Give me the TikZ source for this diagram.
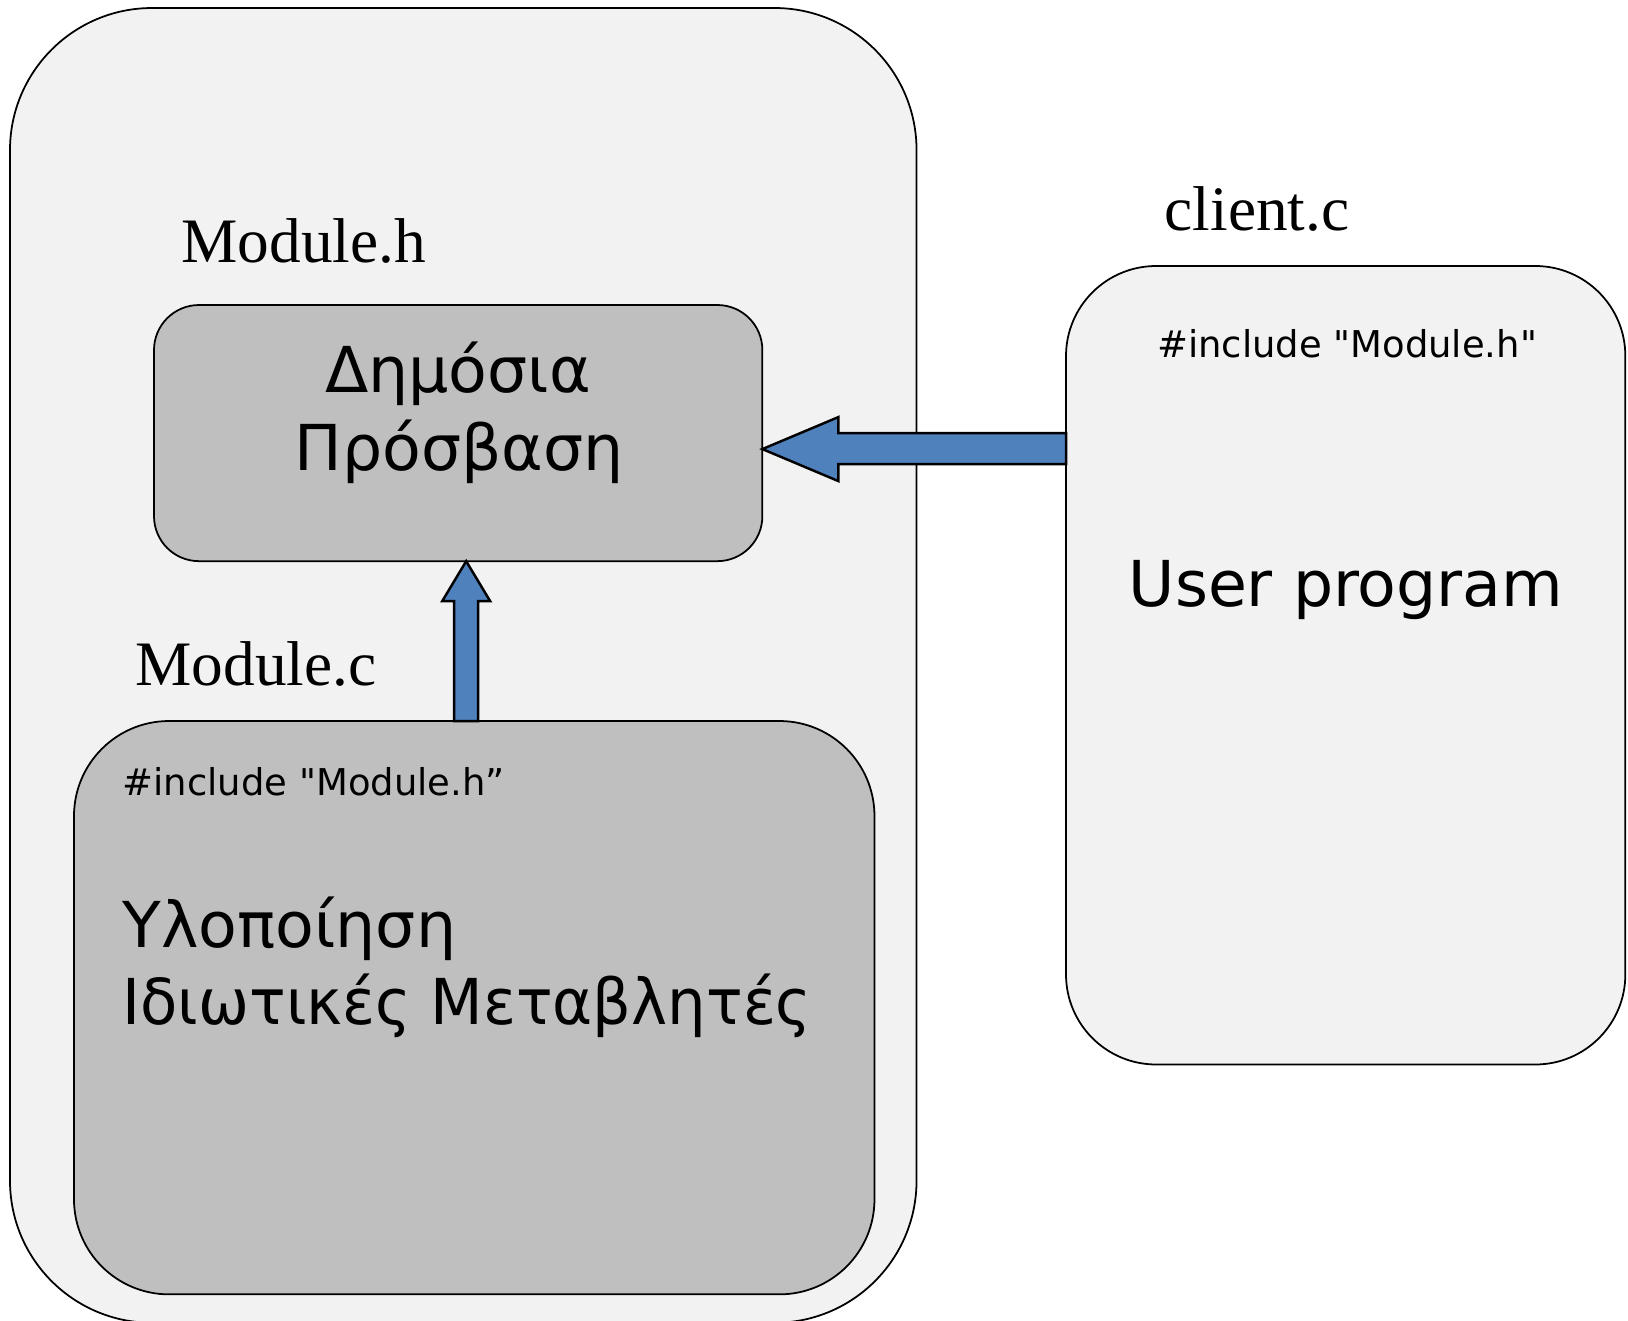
\documentclass[tikz,border=0pt]{standalone}
\usepackage{fontspec}
\setmainfont{Liberation Serif}
\setsansfont{DejaVu Sans}
\newfontfamily\codefont{DejaVu Sans}[Ligatures=TeXOff]
\usetikzlibrary{calc}
\definecolor{paneFill}{HTML}{F2F2F2}
\definecolor{boxFill}{HTML}{BFBFBF}
\definecolor{arrowFill}{HTML}{4F81BD}

\begin{document}
\begin{tikzpicture}[x=0.01cm, y=-0.01cm,
  frame/.style={draw=black, line width=0.5pt, inner sep=0pt, outer sep=0pt, anchor=north west},
  pane/.style={frame, fill=paneFill},
  greybox/.style={frame, fill=boxFill},
  fatarrow/.style={draw=black, line width=0.7pt, fill=arrowFill, line join=miter},
  filelabel/.style={inner sep=0pt, font=\rmfamily\fontsize{18pt}{21pt}\selectfont},
  bigtext/.style={inner sep=0pt, font=\sffamily\fontsize{18pt}{21pt}\selectfont},
  codetext/.style={inner sep=0pt, font=\codefont\fontsize{10.5pt}{13pt}\selectfont}]

\useasboundingbox (0,0) rectangle (1628,1320);

% containers
\node[pane, minimum width=9.06cm, minimum height=13.14cm, rounded corners=1.42cm] (outer) at (10,8) {};
\node[greybox, minimum width=6.08cm, minimum height=2.56cm, rounded corners=0.45cm] (pub) at (154,305) {};
\node[greybox, minimum width=8.00cm, minimum height=5.73cm, rounded corners=0.95cm] (impl) at (74,721) {};
\node[pane, minimum width=5.59cm, minimum height=7.98cm, rounded corners=0.9cm] (cli) at (1066,266) {};

% file names
\node[filelabel, anchor=base west] (lblH) at (181,262) {Module.h};
\node[filelabel, anchor=base west] (lblC) at (1164,230) {client.c};
\node[filelabel, anchor=base west] (lblMc) at (135,685) {Module.c};

% public interface
\node[bigtext, anchor=base] (pubA) at (458,392) {Δημόσια};
\node[bigtext, anchor=base] (pubB) at (459,470) {Πρόσβαση};

% client program
\node[codetext, anchor=base] (cliInc) at (1347,357) {\#include "Module.h"};
\node[bigtext, anchor=base] (cliText) at (1346,606) {User program};

% implementation
\node[codetext, anchor=base west] (implInc) at (122,795) {\#include "Module.h”};
\node[bigtext, anchor=base west] (implA) at (122,947) {Υλοποίηση};
\node[bigtext, anchor=base west] (implB) at (122,1024) {\scalebox{0.962}[1]{Ιδιωτικές Μεταβλητές}};

% client -> public interface
\coordinate (tipL) at ($(pub.east)+(0,16)$);
\coordinate (tailL) at (cli.west |- tipL);
\draw[fatarrow] (tipL) -- ($(tipL)+(76,-32)$) -- ($(tipL)+(76,-16)$)
  -- ($(tailL)+(0,-16)$) -- ($(tailL)+(0,15)$) -- ($(tipL)+(76,15)$)
  -- ($(tipL)+(76,32)$) -- cycle;

% implementation -> public interface
\coordinate (tipU) at ($(pub.south)+(8,0)$);
\coordinate (tailU) at (tipU |- impl.north);
\draw[fatarrow] (tipU) -- ($(tipU)+(24,40)$) -- ($(tipU)+(12,40)$)
  -- ($(tailU)+(12,0)$) -- ($(tailU)+(-12,0)$) -- ($(tipU)+(-12,40)$)
  -- ($(tipU)+(-24,40)$) -- cycle;
\end{tikzpicture}
\end{document}
